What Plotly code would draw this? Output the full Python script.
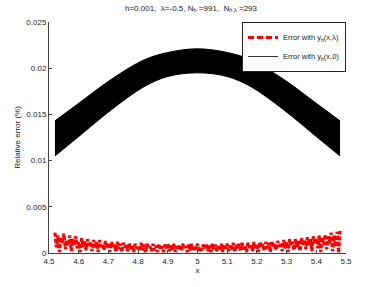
import plotly.graph_objects as go

# Envelope of the dense black oscillating error curve
band_x = [4.52, 4.60, 4.71, 4.82, 4.90, 5.00, 5.10, 5.18, 5.29, 5.40, 5.48]
band_upper = [0.0143, 0.0162, 0.0188, 0.0209, 0.0217, 0.0221, 0.0217, 0.0209, 0.0188, 0.0162, 0.0143]
band_lower = [0.0105, 0.0126, 0.0155, 0.0180, 0.0191, 0.0195, 0.0191, 0.0180, 0.0155, 0.0126, 0.0105]

# Red error series, x step 0.005 from 4.52 to 5.48
red_x = [round(4.52 + 0.005 * i, 3) for i in range(193)]
red_y = [
    0.0022, 0.0006, 0.0019, 0.0001, 0.0017, 0.0010, 0.0021, 0.0004, 0.0014, 0.0008,
    0.0019, 0.0002, 0.0015, 0.0009, 0.0018, 0.0005, 0.0012, 0.0001, 0.0016, 0.0007,
    0.0013, 0.0003, 0.0015, 0.0008, 0.0011, 0.0002, 0.0014, 0.0006, 0.0012, 0.0001,
    0.0014, 0.0007, 0.0010, 0.0003, 0.0013, 0.0005, 0.0011, 0.0001, 0.0012, 0.0006,
    0.0009, 0.0002, 0.0012, 0.0004, 0.0010, 0.0001, 0.0011, 0.0006, 0.0008, 0.0002,
    0.0011, 0.0004, 0.0009, 0.0001, 0.0010, 0.0005, 0.0008, 0.0002, 0.0011, 0.0003,
    0.0009, 0.0001, 0.0010, 0.0005, 0.0007, 0.0002, 0.0010, 0.0003, 0.0008, 0.0001,
    0.0010, 0.0004, 0.0007, 0.0001, 0.0009, 0.0005, 0.0010, 0.0002, 0.0008, 0.0003,
    0.0010, 0.0001, 0.0007, 0.0004, 0.0009, 0.0002, 0.0010, 0.0005, 0.0007, 0.0001,
    0.0009, 0.0003, 0.0010, 0.0002, 0.0008, 0.0004, 0.0010, 0.0001, 0.0007, 0.0003,
    0.0009, 0.0005, 0.0010, 0.0002, 0.0008, 0.0001, 0.0010, 0.0004, 0.0009, 0.0002,
    0.0007, 0.0003, 0.0010, 0.0001, 0.0009, 0.0005, 0.0010, 0.0002, 0.0008, 0.0004,
    0.0011, 0.0001, 0.0009, 0.0005, 0.0010, 0.0002, 0.0011, 0.0004, 0.0008, 0.0001,
    0.0011, 0.0006, 0.0009, 0.0002, 0.0012, 0.0004, 0.0010, 0.0001, 0.0012, 0.0006,
    0.0010, 0.0002, 0.0012, 0.0005, 0.0011, 0.0001, 0.0013, 0.0006, 0.0010, 0.0003,
    0.0013, 0.0007, 0.0011, 0.0002, 0.0014, 0.0005, 0.0012, 0.0001, 0.0015, 0.0008,
    0.0012, 0.0003, 0.0015, 0.0006, 0.0013, 0.0002, 0.0016, 0.0009, 0.0014, 0.0004,
    0.0017, 0.0008, 0.0015, 0.0002, 0.0018, 0.0010, 0.0016, 0.0005, 0.0019, 0.0001,
    0.0017, 0.0009, 0.0020, 0.0004, 0.0018, 0.0011, 0.0022, 0.0002, 0.0019, 0.0007,
    0.0023, 0.0000, 0.0024,
]

x_ticks = [4.5, 4.6, 4.7, 4.8, 4.9, 5.0, 5.1, 5.2, 5.3, 5.4, 5.5]
x_tick_text = ["4.5", "4.6", "4.7", "4.8", "4.9", "5", "5.1", "5.2", "5.3", "5.4", "5.5"]
y_ticks = [0, 0.005, 0.01, 0.015, 0.02, 0.025]
y_tick_text = ["0", "0.005", "0.01", "0.015", "0.02", "0.025"]

FONT = "Liberation Sans, Arial, Helvetica, sans-serif"
AXC = "#444444"

fig = go.Figure()
fig.add_trace(go.Scatter(
    x=red_x, y=red_y, mode="lines",
    line=dict(color="#ff0000", width=3.2, dash="4px,2px"),
    showlegend=False, hoverinfo="skip",
))
fig.add_trace(go.Scatter(
    x=band_x, y=band_lower, mode="lines",
    line=dict(color="black", width=1, shape="spline"),
    showlegend=False, hoverinfo="skip",
))
fig.add_trace(go.Scatter(
    x=band_x, y=band_upper, mode="lines",
    line=dict(color="black", width=1, shape="spline"),
    fill="tonexty", fillcolor="black",
    showlegend=False, hoverinfo="skip",
))
# legend-only entries
fig.add_trace(go.Scatter(
    x=[None], y=[None], mode="lines",
    line=dict(color="#ff0000", width=3, dash="6px,3px"),
    name="Error with y<sub>h</sub>(x,λ)", legendrank=1,
))
fig.add_trace(go.Scatter(
    x=[None], y=[None], mode="lines",
    line=dict(color="#333333", width=1),
    name="Error with y<sub>h</sub>(x,0)", legendrank=2,
))

fig.update_layout(
    width=382, height=287,
    margin=dict(l=49, r=36, t=22, b=34),
    paper_bgcolor="white", plot_bgcolor="white",
    font=dict(family=FONT, size=8, color="#222"),
    hovermode=False,
    title=dict(
        text="h=0.001,  λ=-0.5, N<sub>h</sub> =991,  N<sub>h,λ</sub> =293",
        x=0.5, xanchor="center", y=0.982, yanchor="top",
        font=dict(size=8, family=FONT, color="#222"),
    ),
    showlegend=True,
    legend=dict(
        x=1.0, xanchor="right", y=1.0, yanchor="top",
        bgcolor="white", bordercolor="#222", borderwidth=1,
        font=dict(size=7.5, family=FONT),
        traceorder="normal", tracegroupgap=0, itemwidth=30,
    ),
    xaxis=dict(
        range=[4.5, 5.5], tickvals=x_ticks, ticktext=x_tick_text,
        showgrid=False, zeroline=False, showline=True, linecolor=AXC, linewidth=1,
        ticks="inside", ticklen=3, tickcolor=AXC, automargin=False,
        title=dict(text="x", standoff=2, font=dict(size=8)),
    ),
    yaxis=dict(
        range=[0, 0.025], tickvals=y_ticks, ticktext=y_tick_text,
        showgrid=False, zeroline=False, showline=True, linecolor=AXC, linewidth=1,
        ticks="inside", ticklen=3, tickcolor=AXC, automargin=False,
        title=dict(text="Relative error (%)", standoff=4, font=dict(size=8)),
    ),
)

fig.write_html("out.html", config={"displayModeBar": False},
               post_script="document.body.style.margin='0';")
